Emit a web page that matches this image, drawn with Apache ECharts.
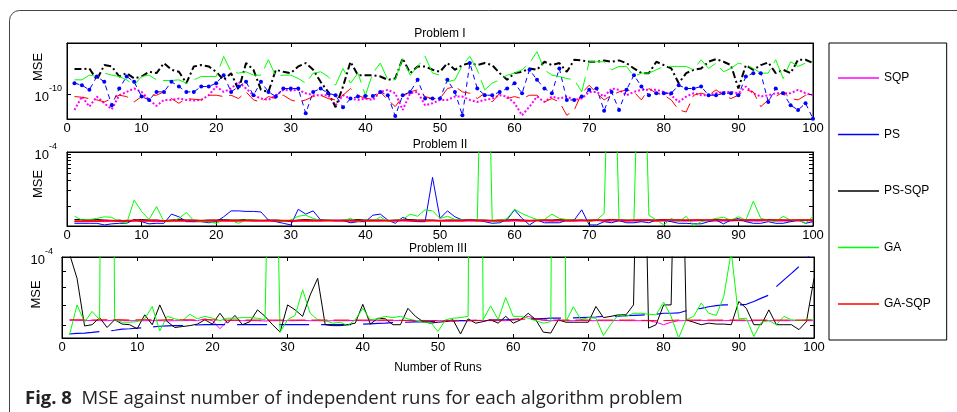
<!DOCTYPE html>
<html>
<head>
<meta charset="utf-8">
<script src="https://cdn.jsdelivr.net/npm/echarts@6.0.0/dist/echarts.min.js"></script>
<style>
  html, body { margin: 0; padding: 0; background: #fff; }
  #chart { width: 957px; height: 412px; }
</style>
</head>
<body>
<div id="chart"></div>
<script>
  const FONT = '"Liberation Sans", Arial, Helvetica, sans-serif'

  // run number 1..100 on the x axis
  const runs = Array.from({ length: 100 }, (_, i) => i + 1)
  const algorithms = ['SQP', 'PS', 'PS-SQP', 'GA', 'GA-SQP']
  const colors = ['#ff00ff', '#0000ff', '#000000', '#00ff00', '#ff0000']

  // log-axis tick marks and labels (MSE)
  const p1TickMse = [1e-10]
  const p2TickMse = [1e-5, 2e-5, 3e-5, 4e-5, 5e-5, 6e-5, 7e-5, 8e-5, 9e-5, 1e-4]
  const p3TickMse = [6e-5, 7e-5, 8e-5, 9e-5, 1e-4]
  const p1LabelMse = [1e-10]
  const p2LabelMse = [1e-4]
  const p3LabelMse = [1e-4]

  // ---- Problem I, values are log10(MSE) ----
  const sqpP1 = [-10.24,-10.04,-10.19,-10.04,-10.14,-10.23,-10.02,-9.97,-9.92,-9.97,
    -10.09,-10.18,-10.09,-10.09,-10.07,-10.09,-10.10,-10.09,-10.02,-9.89,
    -9.97,-9.92,-9.82,-9.92,-10.02,-10.07,-10.09,-10.02,-9.94,-9.95,
    -9.94,-9.99,-10.02,-10.02,-10.02,-10.17,-10.02,-10.07,-10.09,-10.07,
    -10.09,-9.97,-9.94,-9.99,-10.24,-9.99,-9.97,-10.17,-10.14,-10.09,
    -10.09,-10.04,-10.04,-10.09,-10.12,-10.09,-10.07,-10.02,-10.04,-10.14,
    -10.32,-10.19,-10.04,-10.12,-10.04,-10.07,-10.04,-10.09,-10.07,-9.97,
    -9.97,-10.04,-9.92,-9.94,-10.02,-9.97,-9.94,-9.94,-9.94,-9.97,
    -10.02,-10.12,-10.04,-9.99,-10.02,-10.02,-9.99,-9.97,-9.97,-9.99,
    -9.89,-9.99,-10.04,-10.02,-9.99,-9.99,-9.99,-9.94,-9.99,-10.02]
  const psP1 = [-9.84,-9.87,-9.94,-9.74,-9.82,-10.17,-9.92,-9.74,-9.82,-10.04,
    -10.09,-9.97,-9.97,-9.82,-9.89,-9.97,-9.97,-9.89,-9.89,-9.84,
    -9.72,-9.97,-9.89,-9.82,-10.02,-9.82,-9.97,-10.04,-9.92,-9.92,
    -9.92,-10.29,-9.97,-9.92,-9.99,-10.02,-10.20,-10.07,-10.04,-10.03,
    -10.03,-9.97,-10.02,-10.33,-10.02,-9.97,-9.79,-10.07,-10.07,-10.07,
    -9.79,-9.97,-10.32,-9.54,-9.92,-10.02,-10.02,-9.97,-9.92,-9.84,
    -9.99,-9.64,-9.79,-9.92,-9.99,-9.62,-10.09,-10.09,-10.04,-9.94,
    -9.92,-10.25,-9.97,-10.24,-9.94,-9.72,-9.89,-10.02,-9.99,-9.99,
    -9.99,-9.87,-9.92,-9.92,-9.89,-10.02,-10.02,-9.99,-9.99,-10.02,
    -9.74,-9.69,-9.69,-10.12,-9.92,-9.99,-10.17,-10.24,-10.14,-10.37]
  const pssqpP1 = [-9.63,-9.63,-9.62,-9.79,-9.57,-9.59,-9.74,-9.69,-9.77,-9.74,
    -9.67,-9.69,-9.54,-9.64,-9.67,-9.84,-9.59,-9.57,-9.59,-9.67,
    -9.79,-9.69,-9.94,-9.54,-9.64,-9.94,-9.97,-9.64,-9.67,-9.69,
    -9.59,-9.54,-9.64,-9.82,-9.97,-10.20,-9.89,-9.52,-9.72,-9.72,
    -9.72,-9.74,-9.79,-9.77,-9.47,-9.69,-9.59,-9.59,-9.64,-9.67,
    -9.54,-9.64,-9.57,-9.54,-9.57,-9.54,-9.57,-9.69,-9.79,-9.69,
    -9.67,-9.62,-9.64,-9.52,-9.57,-9.54,-9.67,-9.49,-9.50,-9.52,
    -9.52,-9.50,-9.52,-9.50,-9.54,-9.62,-9.69,-9.69,-9.52,-9.57,
    -9.62,-9.84,-9.69,-9.64,-9.62,-9.52,-9.48,-9.52,-9.57,-9.92,
    -9.57,-9.64,-9.57,-9.53,-9.69,-9.64,-9.69,-9.49,-9.49,-9.54]
  const gaP1 = [-9.79,-9.79,-9.72,-9.74,-9.69,-9.72,-9.74,-9.79,-9.87,-9.74,
    -9.72,-9.79,-9.80,-9.80,-9.79,-9.84,-9.79,-9.74,-9.74,-9.74,
    -9.44,-9.67,-9.69,-9.67,-9.72,-9.72,-9.49,-9.74,-9.72,-9.72,
    -9.77,-9.84,-9.69,-9.67,-9.74,-9.87,-9.62,-9.84,-9.69,-10.02,
    -9.69,-9.54,-9.79,-9.79,-9.47,-9.72,-9.59,-9.44,-9.69,-9.72,
    -9.82,-9.79,-9.57,-9.44,-9.64,-9.94,-9.84,-9.79,-9.72,-9.69,
    -9.64,-9.54,-9.37,-9.64,-9.72,-9.74,-9.77,-9.79,-9.97,-9.52,
    -9.52,-9.52,-9.64,-9.59,-9.59,-9.74,-9.69,-9.69,-9.64,-9.59,
    -9.59,-9.59,-9.59,-9.64,-9.49,-9.62,-9.54,-9.67,-9.62,-9.54,
    -9.57,-9.62,-9.69,-9.69,-9.49,-9.77,-9.52,-9.59,-9.54,-9.54]
  const gasqpP1 = [-10.04,-10.05,-10.07,-10.09,-10.12,-10.07,-10.02,-10.04,-10.12,-10.04,
    -10.02,-10.02,-9.97,-10.07,-10.14,-10.07,-10.08,-10.09,-10.02,-10.02,
    -10.04,-10.02,-10.07,-9.97,-10.09,-10.12,-10.04,-10.07,-10.02,-10.09,
    -10.12,-10.09,-10.04,-10.02,-10.07,-10.09,-10.02,-9.92,-10.02,-10.07,
    -10.07,-9.97,-10.09,-10.19,-10.04,-9.97,-9.94,-10.04,-10.07,-10.07,
    -9.92,-9.89,-9.97,-9.99,-10.07,-9.99,-10.12,-9.99,-10.07,-10.04,
    -10.07,-10.02,-10.02,-10.12,-10.07,-10.12,-10.32,-10.24,-9.99,-9.87,
    -9.99,-10.09,-10.02,-9.97,-9.94,-9.97,-10.09,-9.92,-9.99,-10.02,
    -10.09,-10.24,-10.27,-10.02,-9.99,-10.02,-9.94,-10.02,-10.07,-10.02,
    -9.94,-9.97,-10.19,-10.09,-10.04,-9.97,-10.07,-10.09,-10.02,-10.02]

  // ---- Problem II, log10(MSE) ----
  const sqpP2 = [-5.29,-5.29,-5.29,-5.28,-5.29,-5.28,-5.28,-5.29,-5.28,-5.28,
    -5.28,-5.29,-5.28,-5.28,-5.28,-5.28,-5.29,-5.28,-5.28,-5.28,
    -5.28,-5.28,-5.28,-5.27,-5.28,-5.28,-5.28,-5.28,-5.28,-5.29,
    -5.28,-5.28,-5.28,-5.28,-5.27,-5.28,-5.28,-5.28,-5.28,-5.28,
    -5.28,-5.28,-5.27,-5.28,-5.28,-5.28,-5.28,-5.28,-5.27,-5.28,
    -5.28,-5.28,-5.28,-5.28,-5.28,-5.27,-5.28,-5.28,-5.28,-5.28,
    -5.28,-5.28,-5.27,-5.28,-5.28,-5.28,-5.28,-5.28,-5.28,-5.28,
    -5.27,-5.28,-5.28,-5.28,-5.28,-5.28,-5.28,-5.27,-5.28,-5.28,
    -5.28,-5.28,-5.28,-5.28,-5.27,-5.28,-5.28,-5.28,-5.28,-5.27,
    -5.28,-5.28,-5.28,-5.27,-5.28,-5.28,-5.28,-5.28,-5.27,-5.28]
  const psP2 = [-5.32,-5.32,-5.32,-5.32,-5.35,-5.33,-5.32,-5.32,-5.25,-5.29,
    -5.33,-5.32,-5.32,-5.15,-5.20,-5.29,-5.29,-5.29,-5.31,-5.29,
    -5.20,-5.09,-5.09,-5.10,-5.10,-5.11,-5.26,-5.29,-5.32,-5.35,
    -5.06,-5.15,-5.09,-5.26,-5.27,-5.26,-5.27,-5.31,-5.29,-5.29,
    -5.17,-5.15,-5.26,-5.32,-5.21,-5.27,-5.29,-5.29,-4.47,-5.23,
    -5.09,-5.20,-5.26,-5.26,-5.26,-5.29,-5.32,-5.31,-5.25,-5.07,
    -5.23,-5.35,-5.26,-5.31,-5.31,-5.31,-5.26,-5.26,-5.07,-5.35,
    -5.35,-5.29,-5.31,-5.27,-5.31,-5.31,-5.29,-5.31,-5.26,-5.27,
    -5.29,-5.32,-5.32,-5.33,-5.33,-5.29,-5.26,-5.33,-5.26,-5.23,
    -5.29,-5.32,-5.32,-5.29,-5.32,-5.32,-5.29,-5.26,-5.32,-5.29]
  const pssqpP2 = [-5.25,-5.25,-5.26,-5.25,-5.26,-5.27,-5.26,-5.28,-5.26,-5.25,
    -5.26,-5.26,-5.27,-5.26,-5.25,-5.26,-5.26,-5.27,-5.26,-5.26,
    -5.25,-5.26,-5.26,-5.25,-5.26,-5.27,-5.26,-5.26,-5.27,-5.28,
    -5.26,-5.25,-5.26,-5.26,-5.26,-5.27,-5.26,-5.26,-5.25,-5.26,
    -5.26,-5.26,-5.27,-5.26,-5.26,-5.25,-5.26,-5.26,-5.26,-5.27,
    -5.26,-5.26,-5.26,-5.25,-5.26,-5.26,-5.27,-5.26,-5.26,-5.25,
    -5.26,-5.27,-5.26,-5.26,-5.26,-5.25,-5.26,-5.26,-5.27,-5.26,
    -5.26,-5.26,-5.25,-5.26,-5.26,-5.27,-5.26,-5.26,-5.26,-5.25,
    -5.26,-5.26,-5.27,-5.26,-5.26,-5.26,-5.25,-5.26,-5.26,-5.27,
    -5.26,-5.26,-5.26,-5.25,-5.26,-5.26,-5.27,-5.26,-5.26,-5.26]
  const gaP2 = [-5.19,-5.26,-5.25,-5.23,-5.20,-5.21,-5.29,-5.32,-4.89,-5.10,
    -5.25,-5.01,-5.29,-5.29,-5.23,-5.12,-5.27,-5.29,-5.29,-5.32,
    -5.26,-5.27,-5.32,-5.25,-5.26,-5.26,-5.27,-5.27,-5.29,-5.26,
    -5.19,-5.17,-5.23,-5.27,-5.26,-5.27,-5.27,-5.23,-5.29,-5.25,
    -5.29,-5.20,-5.29,-5.26,-5.25,-5.15,-5.19,-5.07,-5.09,-5.23,
    -5.19,-5.25,-5.26,-5.26,-5.26,1.0,-5.29,-5.29,-5.23,-5.06,
    -5.14,-5.20,-5.25,-5.25,-5.15,-5.23,-5.25,-5.26,-5.26,-5.29,
    -5.26,-5.14,0.0,-5.27,-5.26,-5.26,0.0,-5.17,-5.26,-5.35,
    -5.23,-5.29,-5.19,-5.37,-5.29,-5.26,-5.23,-5.21,-5.26,-5.20,
    -5.26,-4.91,-5.23,-5.26,-5.29,-5.19,-5.26,-5.26,-5.32,-5.19]
  const gasqpP2 = [-5.28,-5.28,-5.27,-5.28,-5.27,-5.27,-5.28,-5.27,-5.27,-5.27,
    -5.27,-5.27,-5.28,-5.27,-5.27,-5.27,-5.27,-5.27,-5.27,-5.27,
    -5.27,-5.27,-5.27,-5.27,-5.27,-5.27,-5.27,-5.27,-5.27,-5.27,
    -5.27,-5.27,-5.27,-5.27,-5.27,-5.27,-5.27,-5.27,-5.27,-5.27,
    -5.27,-5.27,-5.27,-5.27,-5.26,-5.27,-5.27,-5.27,-5.27,-5.27,
    -5.27,-5.27,-5.27,-5.26,-5.27,-5.27,-5.27,-5.27,-5.27,-5.26,
    -5.27,-5.27,-5.27,-5.26,-5.27,-5.26,-5.27,-5.27,-5.26,-5.27,
    -5.26,-5.27,-5.26,-5.26,-5.27,-5.26,-5.26,-5.26,-5.27,-5.26,
    -5.26,-5.26,-5.26,-5.26,-5.26,-5.26,-5.26,-5.26,-5.26,-5.26,
    -5.26,-5.26,-5.26,-5.26,-5.26,-5.26,-5.26,-5.26,-5.26,-5.26]

  // ---- Problem III, log10(MSE) ----
  const sqpP3 = [-4.205,-4.205,-4.206,-4.205,-4.206,-4.206,-4.204,-4.205,-4.206,-4.206,
    -4.206,-4.206,-4.206,-4.207,-4.206,-4.206,-4.205,-4.206,-4.200,-4.206,
    -4.232,-4.206,-4.205,-4.206,-4.206,-4.206,-4.207,-4.206,-4.206,-4.206,
    -4.206,-4.205,-4.206,-4.206,-4.207,-4.206,-4.206,-4.206,-4.205,-4.206,
    -4.206,-4.206,-4.206,-4.206,-4.205,-4.206,-4.207,-4.206,-4.206,-4.206,
    -4.206,-4.207,-4.206,-4.206,-4.206,-4.205,-4.206,-4.206,-4.206,-4.204,
    -4.200,-4.192,-4.200,-4.205,-4.206,-4.206,-4.206,-4.206,-4.205,-4.206,
    -4.206,-4.206,-4.206,-4.205,-4.206,-4.206,-4.206,-4.206,-4.211,-4.219,
    -4.211,-4.206,-4.206,-4.206,-4.205,-4.206,-4.206,-4.206,-4.205,-4.206,
    -4.206,-4.206,-4.205,-4.206,-4.206,-4.206,-4.206,-4.205,-4.206,-4.206]
  const psP3 = [-4.249,-4.247,-4.246,-4.244,-4.241,-4.239,-4.237,-4.233,-4.232,-4.230,
    -4.228,-4.226,-4.224,-4.223,-4.222,-4.222,-4.220,-4.220,-4.219,-4.219,
    -4.219,-4.219,-4.219,-4.219,-4.219,-4.219,-4.219,-4.219,-4.219,-4.219,
    -4.219,-4.219,-4.219,-4.219,-4.219,-4.219,-4.219,-4.219,-4.219,-4.217,
    -4.216,-4.215,-4.214,-4.212,-4.211,-4.211,-4.210,-4.210,-4.209,-4.209,
    -4.207,-4.207,-4.206,-4.206,-4.205,-4.204,-4.204,-4.203,-4.203,-4.202,
    -4.201,-4.200,-4.200,-4.199,-4.198,-4.198,-4.198,-4.197,-4.196,-4.195,
    -4.194,-4.192,-4.192,-4.191,-4.190,-4.189,-4.188,-4.187,-4.185,-4.182,
    -4.182,-4.181,-4.174,-4.169,-4.166,-4.161,-4.157,-4.155,-4.155,-4.155,
    -4.153,-4.144,-4.133,-4.123,-4.096,-4.074,-4.053,-4.031,-4.004,-3.983]
  const pssqpP3 = [-3.99,-4.069,-4.223,-4.219,-4.196,-4.228,-4.203,-4.217,-4.219,-4.232,
    -4.187,-4.219,-4.155,-4.209,-4.228,-4.225,-4.222,-4.217,-4.203,-4.217,
    -4.182,-4.214,-4.189,-4.219,-4.209,-4.171,-4.192,-4.219,-4.243,-4.155,
    -4.171,-4.192,-4.123,-4.069,-4.219,-4.222,-4.222,-4.219,-4.214,-4.153,
    -4.217,-4.198,-4.200,-4.219,-4.219,-4.166,-4.192,-4.209,-4.214,-4.211,
    -4.209,-4.203,-4.249,-4.200,-4.214,-4.209,-4.203,-4.214,-4.192,-4.214,
    -4.203,-4.182,-4.203,-4.243,-4.246,-4.203,-4.211,-4.211,-4.211,-4.211,
    -4.160,-4.196,-4.192,-4.187,-4.187,-4.155,-3.0,-4.230,-4.219,-4.155,
    -4.155,-3.0,-4.203,-4.211,-4.219,-4.214,-4.217,-4.217,-4.219,-4.144,
    -4.166,-4.219,-4.219,-4.171,-4.219,-4.219,-4.219,-4.235,-4.209,-4.069]
  const gaP3 = [-4.252,-4.155,-4.211,-4.176,-4.203,-0.5,-4.203,-4.211,-4.211,-4.209,
    -4.200,-4.160,-4.239,-4.192,-4.200,-4.206,-4.185,-4.200,-4.192,-4.198,
    -4.206,-4.198,-4.198,-4.196,-4.196,-4.198,-4.203,-3.0,-4.243,-4.203,
    -4.189,-4.106,-4.182,-4.203,-4.206,-4.214,-4.211,-4.222,-4.203,-4.166,
    -4.203,-4.200,-4.192,-4.196,-4.192,-4.200,-4.206,-4.211,-4.211,-4.241,
    -4.203,-4.198,-4.196,-4.192,-0.5,-4.203,-4.158,-4.203,-4.131,-4.192,
    -4.192,-4.198,-4.206,-4.214,-4.209,-0.5,-4.209,-4.161,-4.203,-4.196,
    -4.198,-4.254,-4.217,-4.187,-4.192,-4.182,-4.182,-4.185,-4.187,-4.146,
    -4.192,-4.262,-4.203,-4.192,-4.149,-4.182,-4.189,-4.128,-3.983,-4.200,
    -4.198,-4.257,-4.211,-4.206,-4.219,-4.192,-4.203,-4.206,-4.203,-4.203]
  const gasqpP3 = [-4.203,-4.203,-4.203,-4.204,-4.203,-4.203,-4.203,-4.203,-4.204,-4.203,
    -4.203,-4.203,-4.204,-4.203,-4.203,-4.203,-4.203,-4.204,-4.203,-4.203,
    -4.204,-4.204,-4.204,-4.204,-4.204,-4.204,-4.204,-4.204,-4.204,-4.204,
    -4.204,-4.204,-4.204,-4.204,-4.204,-4.204,-4.204,-4.204,-4.204,-4.204,
    -4.204,-4.204,-4.204,-4.204,-4.205,-4.205,-4.205,-4.205,-4.206,-4.206,
    -4.206,-4.205,-4.205,-4.205,-4.205,-4.205,-4.204,-4.204,-4.204,-4.203,
    -4.202,-4.200,-4.202,-4.203,-4.204,-4.204,-4.204,-4.204,-4.204,-4.204,
    -4.204,-4.204,-4.204,-4.204,-4.204,-4.204,-4.205,-4.205,-4.206,-4.206,
    -4.205,-4.204,-4.204,-4.204,-4.204,-4.204,-4.204,-4.204,-4.204,-4.204,
    -4.204,-4.204,-4.204,-4.204,-4.204,-4.204,-4.204,-4.204,-4.204,-4.204]

  const problems = [
    { title: 'Problem I', values: [sqpP1, psP1, pssqpP1, gaP1, gasqpP1], min: -10.375, max: -9.24,
      ticks: p1TickMse, labels: p1LabelMse },
    { title: 'Problem II', values: [sqpP2, psP2, pssqpP2, gaP2, gasqpP2], min: -5.37, max: -4,
      ticks: p2TickMse, labels: p2LabelMse },
    { title: 'Problem III', values: [sqpP3, psP3, pssqpP3, gaP3, gasqpP3], min: -4.262, max: -4,
      ticks: p3TickMse, labels: p3LabelMse }
  ]

  // line look per problem, in algorithm order
  const lineLooks = [
    [{ type: 'dotted', width: 2 }, { type: [5, 4], width: 1, symbol: 4 }, { type: [7, 3, 2, 3], width: 2 },
      { type: [26, 7], width: 1 }, { type: [14, 7], width: 1 }],
    [{ type: 'solid', width: 1 }, { type: 'solid', width: 1 }, { type: 'solid', width: 1 },
      { type: 'solid', width: 1 }, { type: 'solid', width: 1.6 }],
    [{ type: 'solid', width: 1 }, { type: [30, 12], width: 1.2 }, { type: 'solid', width: 1 },
      { type: 'solid', width: 1 }, { type: [16, 6], width: 1 }]
  ]

  const grids = [
    { left: 67, top: 43, width: 746, height: 76 },
    { left: 67, top: 152, width: 746, height: 74 },
    { left: 62, top: 257, width: 752, height: 81 }
  ]
  const titleTops = [28, 139, 243]
  const labelMargins = [5, 10, 9]
  const nameGaps = [22, 22, 19]
  const namePads = [[0, 0, 0, 28], [0, 0, 0, 10], [0, 0, 0, 6]]

  const textBase = { fontFamily: FONT, color: '#000' }
  const xAxes = []
  const yAxes = []
  const series = []

  problems.forEach((p, i) => {
    const bottom = i === 2
    xAxes.push({
      type: 'value', gridIndex: i, min: 0, max: 100, interval: 10,
      name: bottom ? 'Number of Runs' : '', nameLocation: 'middle', nameGap: 24, nameMoveOverlap: false,
      nameTextStyle: Object.assign({ fontSize: 12 }, textBase),
      axisLine: { onZero: false, lineStyle: { color: '#000', width: 1 } },
      axisTick: { inside: true, length: 4, lineStyle: { color: '#000' } },
      axisLabel: Object.assign({ fontSize: 13, margin: 3 }, textBase),
      splitLine: { show: false }
    })
    yAxes.push({
      type: 'value', gridIndex: i, min: p.min, max: p.max,
      name: 'MSE', nameLocation: 'middle', nameGap: nameGaps[i], nameMoveOverlap: false,
      nameTextStyle: Object.assign({ fontSize: 13, padding: namePads[i] }, textBase),
      axisLine: { onZero: false, lineStyle: { color: '#000', width: 1 } },
      axisTick: { inside: true, length: 4, lineStyle: { color: '#000' }, customValues: p.ticks.map(Math.log10) },
      axisLabel: {
        margin: labelMargins[i],
        customValues: p.labels.map(Math.log10),
        formatter: v => '{b|10}{s|' + Math.round(v) + '}',
        rich: {
          b: Object.assign({ fontSize: 13, lineHeight: 20, verticalAlign: 'bottom' }, textBase),
          s: Object.assign({ fontSize: 9, lineHeight: 20, verticalAlign: 'top' }, textBase)
        }
      },
      splitLine: { show: false }
    })
    p.values.forEach((vals, k) => {
      const look = lineLooks[i][k]
      series.push({
        name: algorithms[k], type: 'line', xAxisIndex: i, yAxisIndex: i,
        data: vals.map((v, j) => [runs[j], v]),
        symbol: look.symbol ? 'circle' : 'none', symbolSize: look.symbol || 0, showSymbol: !!look.symbol,
        clip: true, color: colors[k],
        itemStyle: { color: colors[k] },
        lineStyle: { color: colors[k], width: look.width, type: look.type },
        emphasis: { disabled: true }
      })
    })
  })

  // mirrored ticks on the top and right edges of every panel
  problems.forEach((p, i) => {
    xAxes.push({
      type: 'value', gridIndex: i, position: 'top', min: 0, max: 100, interval: 10,
      axisLine: { onZero: false, lineStyle: { color: '#000' } },
      axisTick: { inside: true, length: 4, lineStyle: { color: '#000' } },
      axisLabel: { show: false }, splitLine: { show: false }
    })
    yAxes.push({
      type: 'value', gridIndex: i, position: 'right', min: p.min, max: p.max,
      axisLine: { onZero: false, lineStyle: { color: '#000' } },
      axisTick: { inside: true, length: 4, lineStyle: { color: '#000' }, customValues: p.ticks.map(Math.log10) },
      axisLabel: { show: false }, splitLine: { show: false }
    })
  })

  const chart = echarts.init(document.getElementById('chart'))
  chart.setOption({
    animation: false,
    backgroundColor: '#fff',
    title: problems.map((p, i) => ({
      text: p.title, left: grids[i].left + grids[i].width / 2, top: titleTops[i], textAlign: 'center', padding: 0,
      textStyle: Object.assign({ fontSize: 12, fontWeight: 'normal' }, textBase)
    })),
    legend: {
      orient: 'vertical', left: 829, top: 43,
      padding: [28, 16, 29, 9], itemGap: 42.5, itemWidth: 41, itemHeight: 1.5, icon: 'rect',
      borderColor: '#000', borderWidth: 1, selectedMode: false,
      textStyle: Object.assign({ fontSize: 12, lineHeight: 14 }, textBase),
      data: algorithms
    },
    grid: grids.map(g => Object.assign({ show: true, borderColor: '#000', borderWidth: 1 }, g)),
    xAxis: xAxes,
    yAxis: yAxes,
    series: series,
    graphic: [
      {
        type: 'rect', left: 7, top: 8, silent: true, z: -10,
        shape: { width: 1000, height: 430, r: 10 },
        style: { fill: 'none', stroke: '#444', lineWidth: 1 }
      },
      {
        type: 'text', left: 25, top: 389, silent: true,
        style: {
          text: '{b|Fig. 8}  MSE against number of independent runs for each algorithm problem',
          fontFamily: '"Open Sans", "Noto Sans", sans-serif', fontSize: 18.5, fill: '#222',
          rich: { b: { fontFamily: '"Open Sans", "Noto Sans", sans-serif', fontSize: 18.5, fontWeight: 'bold', fill: '#222' } }
        }
      }
    ]
  })
</script>
</body>
</html>
